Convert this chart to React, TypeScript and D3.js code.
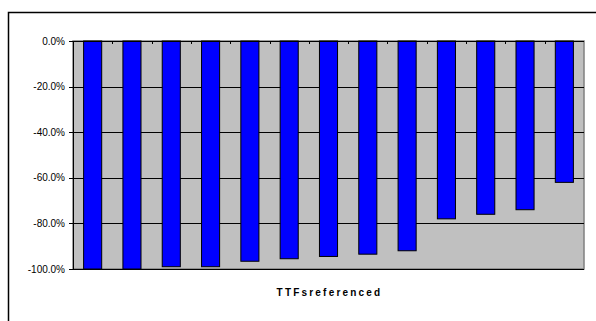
import React from "react";
import * as d3 from "d3";

const categories = ["1", "2", "3", "4", "5", "6", "7", "8", "9", "10", "11", "12", "13"];
const values = [-100, -100, -99, -99, -96.6, -95.5, -94.5, -93.5, -92, -78, -76, -74, -62];
const yTicks = [0, -20, -40, -60, -80, -100];
const axisTitle = "TTFsreferenced";

const W = 596;
const H = 321;
const plot = { left: 73, top: 41, right: 584, bottom: 269 };

export default function App() {
  const x = d3
    .scaleBand<string>()
    .domain(categories)
    .range([plot.left, plot.right])
    .paddingInner(0)
    .paddingOuter(0);
  const y = d3.scaleLinear().domain([0, -100]).range([plot.top, plot.bottom]);
  const band = x.bandwidth();
  const barW = band * 0.46;

  return (
    <svg
      width={W}
      height={H}
      style={{ position: "absolute", left: 0, top: 0, display: "block" }}
      fontFamily="Arial, 'Liberation Sans', sans-serif"
    >
      <rect x={0} y={0} width={W} height={H} fill="#fff" />
      {/* chart border */}
      <rect x={8.5} y={12.5} width={W + 10} height={H + 10} fill="none" stroke="#000" strokeWidth={1.5} />
      {/* plot area */}
      <rect
        x={plot.left}
        y={plot.top}
        width={plot.right - plot.left}
        height={plot.bottom - plot.top}
        fill="#C0C0C0"
        stroke="#808080"
        strokeWidth={1.5}
      />
      {/* gridlines */}
      {yTicks.map((t) => (
        <line key={t} x1={plot.left} x2={plot.right} y1={Math.round(y(t)) + 0.5} y2={Math.round(y(t)) + 0.5} stroke="#000" strokeWidth={1} />
      ))}
      {/* bars */}
      {categories.map((c, i) => (
        <rect
          key={c}
          x={(x(c) as number) + (band - barW) / 2}
          y={y(0)}
          width={barW}
          height={y(values[i]) - y(0)}
          fill="#0000FF"
          stroke="#000"
          strokeWidth={1}
        />
      ))}
      {/* value axis */}
      <line x1={plot.left + 0.5} x2={plot.left + 0.5} y1={plot.top} y2={plot.bottom} stroke="#000" strokeWidth={1} />
      {yTicks.map((t) => (
        <g key={"t" + t}>
          <line x1={plot.left - 4} x2={plot.left} y1={Math.round(y(t)) + 0.5} y2={Math.round(y(t)) + 0.5} stroke="#000" />
          <text x={plot.left - 8} y={y(t)} dy="0.35em" textAnchor="end" fontSize={10} fill="#000">
            {t.toFixed(1) + "%"}
          </text>
        </g>
      ))}
      {/* category axis at top */}
      <line x1={plot.left - 2} x2={plot.right} y1={plot.top + 0.5} y2={plot.top + 0.5} stroke="#000" strokeWidth={1} />
      {categories.map((c, i) =>
        i === 0 ? null : (
          <line
            key={"ct" + c}
            x1={Math.round(x(c) as number) + 0.5}
            x2={Math.round(x(c) as number) + 0.5}
            y1={plot.top}
            y2={plot.top + 3}
            stroke="#000"
          />
        )
      )}
      <text
        x={(plot.left + plot.right) / 2 + 1}
        y={296}
        textAnchor="middle"
        fontSize={10}
        fontWeight="bold"
        letterSpacing={2.2}
        fill="#000"
      >
        {axisTitle}
      </text>
    </svg>
  );
}
